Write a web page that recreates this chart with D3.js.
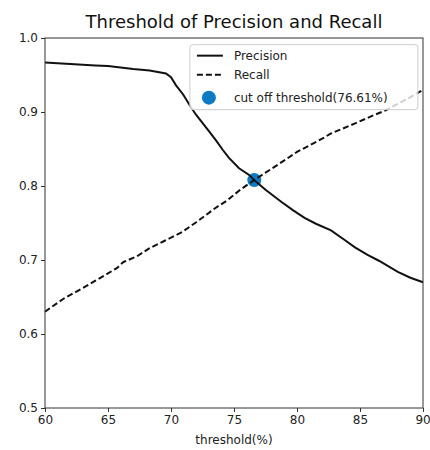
<!DOCTYPE html>
<html>
<head>
<meta charset="utf-8">
<script src="https://cdn.jsdelivr.net/npm/d3@7"></script>
<style>
  body { margin: 0; background: #fff; }
  text { font-family: "DejaVu Sans", sans-serif; }
</style>
</head>
<body>
<div id="chart"></div>
<script>
// Data
const precisionX = [60, 61, 62, 63, 64, 65, 66, 67, 68.3, 69.6, 70.0, 70.4, 70.95, 71.6, 72.0, 73.1, 73.6, 74.1, 74.6, 75.4, 76.2, 76.6, 77.5, 78.8, 79.7, 80.6, 81.5, 82.7, 83.7, 84.6, 85.6, 86.5, 87.3, 88, 89, 90];
const precisionY = [0.967, 0.966, 0.965, 0.964, 0.963, 0.962, 0.960, 0.958, 0.956, 0.952, 0.947, 0.936, 0.924, 0.906, 0.896, 0.872, 0.861, 0.849, 0.838, 0.824, 0.815, 0.808, 0.795, 0.778, 0.767, 0.757, 0.749, 0.740, 0.728, 0.717, 0.707, 0.699, 0.691, 0.684, 0.676, 0.670];
const recallX = [60, 60.4, 61.5, 63, 64, 65, 65.7, 66.2, 67.3, 68.3, 69.5, 70.9, 72, 73.5, 74.5, 75.5, 76.6, 77.5, 78.5, 80, 81, 82, 82.7, 83.7, 84.8, 86, 87, 88, 89, 90];
const recallY = [0.630, 0.635, 0.648, 0.662, 0.672, 0.682, 0.689, 0.697, 0.705, 0.716, 0.726, 0.738, 0.751, 0.770, 0.781, 0.795, 0.808, 0.818, 0.829, 0.846, 0.855, 0.864, 0.871, 0.878, 0.886, 0.895, 0.902, 0.911, 0.920, 0.930];
const cutoff = { x: 76.61, y: 0.808 };
const xTicks = [60, 65, 70, 75, 80, 85, 90];
const yTicks = [0.5, 0.6, 0.7, 0.8, 0.9, 1.0];
const legendLabels = ["Precision", "Recall", "cut off threshold(76.61%)"];

const width = 430, height = 450;
const margin = { top: 38, right: 7, bottom: 42, left: 45 };
const innerW = width - margin.left - margin.right;
const innerH = height - margin.top - margin.bottom;

const svg = d3.select("#chart").append("svg")
  .attr("width", width)
  .attr("height", height);

const g = svg.append("g")
  .attr("transform", `translate(${margin.left},${margin.top})`);

const x = d3.scaleLinear().domain([60, 90]).range([0, innerW]);
const y = d3.scaleLinear().domain([0.5, 1.0]).range([innerH, 0]);

// Title
svg.append("text")
  .attr("x", margin.left + innerW / 2)
  .attr("y", 28)
  .attr("text-anchor", "middle")
  .attr("fill", "#111")
  .style("font-size", "18px")
  .text("Threshold of Precision and Recall");

// Axes
const xAxis = g.append("g")
  .attr("transform", `translate(0,${innerH})`)
  .call(d3.axisBottom(x).tickValues(xTicks).tickFormat(d3.format("d")).tickSize(4).tickPadding(3));
const yAxis = g.append("g")
  .call(d3.axisLeft(y).tickValues(yTicks).tickFormat(d3.format(".1f")).tickSize(4).tickPadding(3));
[xAxis, yAxis].forEach((a) => {
  a.select(".domain").remove();
  a.selectAll("line").attr("stroke", "#333");
  a.selectAll("text").attr("fill", "#222").style("font-size", "12px");
});
// last x label sits against the right edge, keep it inside the page
xAxis.selectAll(".tick text").filter((d) => d === 90).attr("text-anchor", "end").attr("dx", "0.6em");

// X label
g.append("text")
  .attr("x", innerW / 2)
  .attr("y", innerH + 36)
  .attr("text-anchor", "middle")
  .attr("fill", "#222")
  .style("font-size", "12px")
  .text("threshold(%)");

// Cut off point (under the lines, like matplotlib's zorder)
g.append("circle")
  .attr("cx", x(cutoff.x))
  .attr("cy", y(cutoff.y))
  .attr("r", 7)
  .attr("fill", "#0e7ac4");

// Lines
const line = d3.line()
  .x((d) => x(d[0]))
  .y((d) => y(d[1]));

g.append("path")
  .datum(d3.zip(precisionX, precisionY))
  .attr("fill", "none")
  .attr("stroke", "#111")
  .attr("stroke-width", 2)
  .attr("d", line);

g.append("path")
  .datum(d3.zip(recallX, recallY))
  .attr("fill", "none")
  .attr("stroke", "#111")
  .attr("stroke-width", 2)
  .attr("stroke-dasharray", "6,3")
  .attr("d", line);

// Frame
g.append("rect")
  .attr("width", innerW)
  .attr("height", innerH)
  .attr("fill", "none")
  .attr("stroke", "#333")
  .attr("stroke-width", 1);

// Legend
const legend = g.append("g")
  .attr("transform", `translate(${x(71.5)},${y(0.991)})`);

legend.append("rect")
  .attr("width", 228)
  .attr("height", 65)
  .attr("rx", 3)
  .attr("fill", "white")
  .attr("fill-opacity", 0.8)
  .attr("stroke", "#ccc");

const rowY = [11, 30, 53];
legendLabels.forEach((label, i) => {
  const row = legend.append("g").attr("transform", `translate(0,${rowY[i]})`);
  if (i < 2) {
    row.append("line")
      .attr("x1", 7).attr("x2", 33)
      .attr("stroke", "#111")
      .attr("stroke-width", 2)
      .attr("stroke-dasharray", i === 1 ? "6,3" : null);
  } else {
    row.append("circle")
      .attr("cx", 19).attr("r", 7)
      .attr("fill", "#0e7ac4");
  }
  row.append("text")
    .attr("x", 44)
    .attr("dy", "0.35em")
    .attr("fill", "#222")
    .style("font-size", "12px")
    .text(label);
});
</script>
</body>
</html>
